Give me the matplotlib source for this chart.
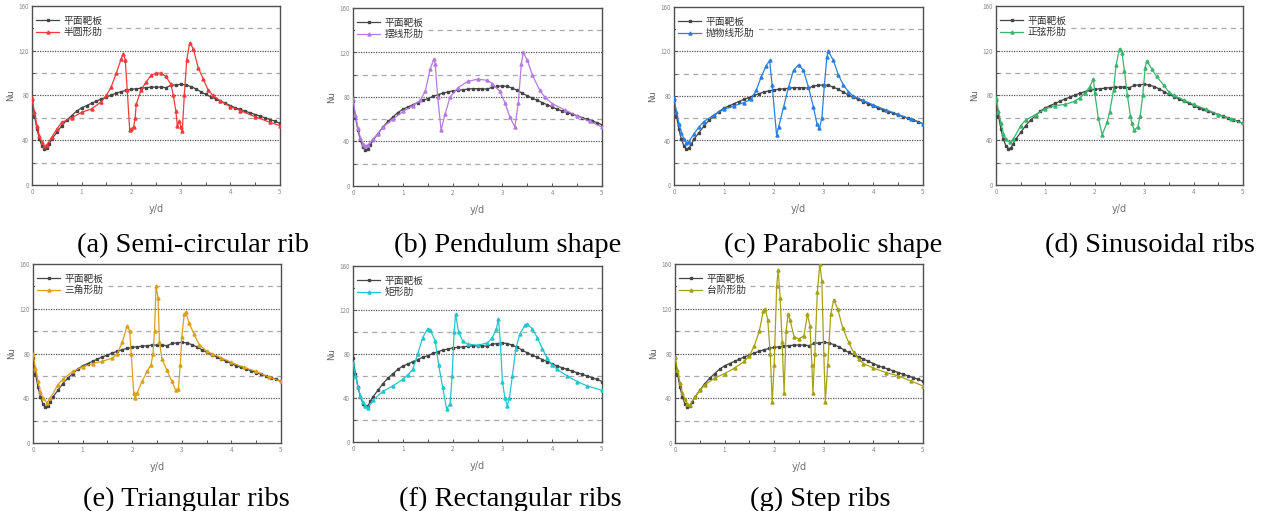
import matplotlib
matplotlib.use("Agg")
import matplotlib.pyplot as plt
from matplotlib.ticker import MultipleLocator

plt.rcParams['font.family'] = ['Noto Sans CJK SC', 'DejaVu Sans']

# Flat target plate (reference curve, shown in every panel)
FLAT_X = [0, 0.05, 0.1, 0.15, 0.2, 0.25, 0.3, 0.35, 0.4,
          0.5, 0.6, 0.7, 0.8, 0.9, 1.0, 1.1, 1.2, 1.3, 1.4, 1.5,
          1.6, 1.7, 1.8, 1.9, 2.0, 2.1, 2.2, 2.3, 2.4, 2.5,
          2.6, 2.7, 2.8, 2.9, 3.0, 3.1, 3.2, 3.3, 3.4, 3.5,
          3.6, 3.7, 3.8, 3.9, 4.0, 4.1, 4.2, 4.3, 4.4, 4.5,
          4.6, 4.7, 4.8, 4.9, 5.0]
FLAT_NU = [76, 62, 50, 41, 35, 32.5, 33, 37, 41,
           47, 53, 58, 62, 66, 69, 71, 73, 75, 77, 78.5,
           80.5, 82, 83.5, 84.5, 85.5, 86, 86.5, 87, 87.5, 87.5,
           87.5, 87, 89, 89.5, 90, 89.5, 88, 86, 83.5, 81,
           79, 77, 75, 73, 71, 69, 67.5, 66, 64.5, 63,
           61.5, 60, 58.5, 57, 55]

# (a) semi-circular rib
SEMI_X = [0, 0.05, 0.1, 0.15, 0.2, 0.25, 0.3,
          0.4, 0.5, 0.6, 0.8, 1.0, 1.2, 1.4,
          1.5, 1.6, 1.7, 1.8, 1.84, 1.88, 1.92,
          1.97, 2.0, 2.05, 2.08, 2.1, 2.2, 2.3,
          2.4, 2.5, 2.6, 2.7, 2.8, 2.85, 2.9,
          2.93, 2.97, 3.0, 3.03, 3.07, 3.12, 3.18,
          3.25, 3.35, 3.45, 3.55, 3.65, 3.8, 4.0,
          4.2, 4.5, 4.8, 5.0]
SEMI_NU = [78, 65, 53, 44, 38, 35, 36,
           43, 50, 56, 60, 65, 68, 74.5,
           80, 88, 100, 113, 117.5, 112, 85,
           49, 50, 52, 60, 72, 85, 92,
           98, 100, 100, 97, 90, 80, 66,
           53, 57, 52, 48, 80, 112, 127,
           122, 105, 95, 85, 80, 75, 70,
           66.5, 61, 56, 53]

# (b) cycloid rib
CYCLOID_X = [0, 0.05, 0.1, 0.15, 0.2, 0.25, 0.3,
             0.4, 0.5, 0.6, 0.8, 1.0, 1.2, 1.35,
             1.45, 1.55, 1.62, 1.65, 1.7, 1.77, 1.85,
             1.95, 2.1, 2.3, 2.5, 2.7, 2.8, 2.95,
             3.05, 3.15, 3.25, 3.32, 3.38, 3.42, 3.5,
             3.6, 3.75, 3.85, 4.0, 4.25, 4.5, 4.75, 5.0]
CYCLOID_NU = [78, 64, 52, 43, 38, 36, 37,
              42, 47, 53, 60, 67, 72, 77,
              85, 105, 114, 110, 80, 50, 65,
              80, 88, 94, 96, 95, 92, 85,
              75, 62, 53, 75, 110, 120, 113,
              100, 86, 80, 74, 68.5, 63, 58, 53]

# (c) parabolic rib
PARAB_X = [0, 0.05, 0.1, 0.15, 0.2, 0.25, 0.3,
           0.4, 0.5, 0.6, 0.8, 1.0, 1.2, 1.4,
           1.55, 1.65, 1.75, 1.85, 1.92, 1.97, 2.06,
           2.1, 2.2, 2.3, 2.4, 2.5, 2.6, 2.7,
           2.8, 2.87, 2.92, 2.97, 3.02, 3.07, 3.1,
           3.2, 3.3, 3.4, 3.5, 3.6, 3.8, 4.0,
           4.25, 4.5, 4.75, 5.0]
PARAB_NU = [78, 66, 55, 47, 41, 38, 39,
            46, 52, 57, 63, 68, 71, 74,
            77, 85, 97, 107, 112, 90, 45,
            52, 70, 88, 103, 108, 103, 88,
            70, 55, 51, 60, 90, 115, 120,
            112, 99, 90, 84, 80, 76, 72,
            67.5, 63.5, 59, 55]

# (d) sinusoidal rib
SINE_X = [0, 0.05, 0.1, 0.15, 0.2, 0.28, 0.35,
          0.5, 0.6, 0.8, 1.0, 1.2, 1.4, 1.6,
          1.7, 1.8, 1.9, 1.97, 2.0, 2.07, 2.15,
          2.25, 2.3, 2.38, 2.43, 2.5, 2.55, 2.6,
          2.66, 2.72, 2.75, 2.8, 2.87, 2.92, 2.97,
          3.02, 3.05, 3.15, 3.25, 3.4, 3.5, 3.6,
          3.8, 4.0, 4.25, 4.5, 4.75, 5.0]
SINE_NU = [78, 66, 55, 46, 41, 38, 41,
           53, 58, 63, 68, 71, 72, 75,
           78, 82, 88, 95, 82, 60, 45,
           56, 65, 85, 107, 122, 118, 102,
           80, 62, 55, 49, 52, 62, 80,
           105, 111, 104, 97, 89, 83, 80,
           76, 72, 67.5, 63, 59, 55]

# (e) triangular rib
TRI_X = [0, 0.05, 0.1, 0.15, 0.2, 0.28, 0.35,
         0.5, 0.6, 0.8, 1.0, 1.2, 1.4, 1.6,
         1.7, 1.8, 1.9, 1.95, 1.98, 2.03, 2.06,
         2.1, 2.2, 2.3, 2.38, 2.42, 2.45, 2.48,
         2.52, 2.55, 2.6, 2.7, 2.8, 2.88, 2.93,
         2.97, 3.0, 3.05, 3.08, 3.15, 3.25, 3.35,
         3.5, 3.6, 3.8, 4.0, 4.25, 4.5, 4.75, 5.0]
TRI_NU = [80, 67, 55, 46, 40, 36, 40,
          52, 57, 64, 68, 71, 73, 76,
          80, 90, 105, 100, 80, 45, 40,
          45, 55, 64, 70, 80, 100, 140,
          130, 90, 75, 65, 55, 47, 48,
          70, 95, 115, 117, 107, 97, 88,
          82, 80, 76, 72, 67.5, 64, 59, 55]

# (f) rectangular rib
RECT_X = [0, 0.05, 0.1, 0.15, 0.2, 0.25, 0.3,
          0.4, 0.6, 0.8, 1.0, 1.1, 1.2, 1.3,
          1.4, 1.5, 1.55, 1.65, 1.72, 1.8, 1.88,
          1.95, 1.99, 2.03, 2.06, 2.12, 2.2, 2.3,
          2.5, 2.7, 2.8, 2.88, 2.92, 2.96, 3.0,
          3.05, 3.1, 3.14, 3.2, 3.27, 3.35, 3.45,
          3.5, 3.6, 3.7, 3.8, 3.9, 4.0, 4.1,
          4.3, 4.5, 4.7, 5.0]
RECT_NU = [72, 60, 50, 42, 36, 33, 31,
           38, 46, 51, 57, 61, 66, 80,
           95, 103, 102, 92, 70, 50, 30,
           35, 60, 100, 116, 100, 92, 89,
           88, 90, 95, 103, 112, 90, 55,
           40, 33, 40, 60, 85, 98, 106,
           107, 103, 95, 85, 76, 70, 66,
           60, 55, 51, 47]

# (g) step rib
STEP_X = [0, 0.05, 0.1, 0.15, 0.2, 0.25, 0.3,
          0.4, 0.5, 0.6, 0.8, 1.0, 1.2, 1.4,
          1.5, 1.6, 1.7, 1.78, 1.82, 1.87, 1.92,
          1.96, 2.0, 2.05, 2.08, 2.12, 2.16, 2.2,
          2.24, 2.28, 2.32, 2.4, 2.5, 2.6, 2.67,
          2.72, 2.76, 2.78, 2.82, 2.87, 2.92, 2.96,
          3.0, 3.03, 3.08, 3.14, 3.2, 3.28, 3.38,
          3.5, 3.6, 3.7, 3.8, 4.0, 4.25, 4.5, 4.75, 5.0]
STEP_NU = [77, 65, 54, 45, 39, 35, 34,
           41, 47, 52, 58, 62, 67, 73,
           78, 87, 100, 118, 120, 110, 80,
           37, 70, 140, 155, 130, 90, 45,
           100, 115, 110, 95, 93, 96, 115,
           105, 70, 45, 80, 135, 160, 145,
           80, 37, 70, 115, 128, 120, 103,
           90, 81, 75, 71, 67, 63, 60, 55.5, 51]

FLAT_LABEL = '平面靶板'
RIB_LABELS = ['半圆形肋', '摆线形肋', '抛物线形肋', '正弦形肋',
              '三角形肋', '矩形肋', '台阶形肋']
CAPTIONS = ['(a) Semi-circular rib', '(b) Pendulum shape',
            '(c) Parabolic shape', '(d) Sinusoidal ribs',
            '(e) Triangular ribs', '(f) Rectangular ribs', '(g) Step ribs']
RIB_COLORS = ['#f03c3c', '#b57be0', '#2b7fe0', '#3cb46e',
              '#d9a01a', '#22c7cc', '#a6a214']
RIB_SERIES = [(SEMI_X, SEMI_NU), (CYCLOID_X, CYCLOID_NU), (PARAB_X, PARAB_NU),
              (SINE_X, SINE_NU), (TRI_X, TRI_NU), (RECT_X, RECT_NU),
              (STEP_X, STEP_NU)]

W, H = 1267, 511
fig = plt.figure(figsize=(W / 100, H / 100), dpi=100)

# panel boxes in pixels: left, top, right, bottom
BOXES = [(32, 6, 280, 185), (353, 8, 602, 186), (674, 7, 923, 185),
         (996, 6, 1243, 185), (33, 264, 281, 443), (353, 266, 602, 442),
         (675, 264, 923, 443)]
CAPTION_POS = [(193, 252), (508, 252), (833, 252), (1150, 252),
               (186, 506), (510, 506), (820, 506)]

for i, (l, t, r, b) in enumerate(BOXES):
    ax = fig.add_axes([l / W, 1 - b / H, (r - l) / W, (b - t) / H])
    ax.set_xlim(0, 5)
    ax.set_ylim(0, 160)

    for yv in (20, 60, 100, 140):
        ax.axhline(yv, color='#a8a8a8', lw=0.9, ls=(0, (4, 3.5)), zorder=1)
    for yv in (40, 80, 120):
        ax.axhline(yv, color='#555555', lw=0.9, ls=(0, (1, 1)), zorder=1)

    ax.plot(FLAT_X, FLAT_NU, color='#454545', lw=0.9, marker='s', ms=2.0,
            label=FLAT_LABEL, zorder=3)
    rx, rnu = RIB_SERIES[i]
    ax.plot(rx, rnu, color=RIB_COLORS[i], lw=0.9, marker='^', ms=2.2,
            label=RIB_LABELS[i], zorder=4)

    ax.xaxis.set_major_locator(MultipleLocator(1))
    ax.xaxis.set_minor_locator(MultipleLocator(0.5))
    ax.yaxis.set_major_locator(MultipleLocator(40))
    ax.yaxis.set_minor_locator(MultipleLocator(20))
    ax.tick_params(which='both', direction='in', color='#555555',
                   labelsize=4.5, labelcolor='#8a8a8a', pad=2)
    ax.tick_params(which='major', length=2.5, width=0.7)
    ax.tick_params(which='minor', length=2.5, width=0.7)
    for sp in ax.spines.values():
        sp.set_color('#505050')
        sp.set_linewidth(1.0)

    ax.set_xlabel('y/d', fontsize=7, color='#707070', labelpad=6,
                  family=['DejaVu Sans'])
    ax.set_ylabel('Nu', fontsize=6, color='#606060', labelpad=3,
                  family=['DejaVu Sans'])

    leg = ax.legend(loc='upper left', bbox_to_anchor=(0.0, 0.97),
                    fontsize=7, frameon=True, facecolor='white',
                    edgecolor='none', framealpha=1, fancybox=False,
                    handlelength=2.3, handletextpad=0.5, labelspacing=0.15,
                    borderpad=0.25, borderaxespad=0.2)
    leg.set_zorder(5)
    for txt in leg.get_texts():
        txt.set_color('#303030')

    cx, cy = CAPTION_POS[i]
    fig.text(cx / W, 1 - cy / H, CAPTIONS[i], ha='center', va='baseline',
             fontsize=20.5, family=['Liberation Serif'], color='black')

fig.savefig('out.png', dpi=100)
